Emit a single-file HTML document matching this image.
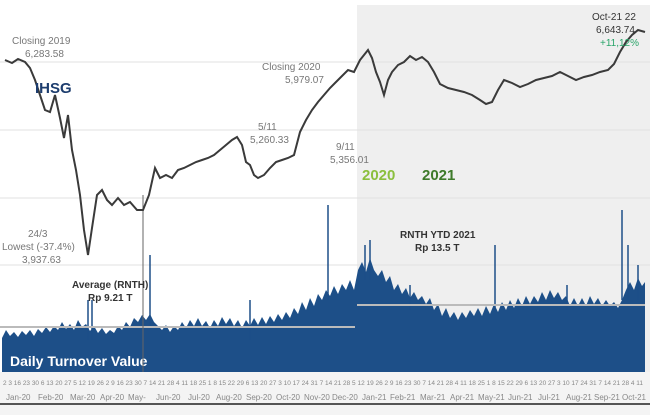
<!DOCTYPE html><html><head><style>body{margin:0;background:#fff;width:650px;height:415px;overflow:hidden;font-family:"Liberation Sans",sans-serif}</style></head><body>
<svg width="650" height="415" xmlns="http://www.w3.org/2000/svg" font-family="Liberation Sans, sans-serif">
<rect x="357" y="5" width="293" height="370" fill="#efefef"/>
<g stroke="#e2e2e2" stroke-width="1"><line x1="0" y1="62" x2="650" y2="62"/><line x1="0" y1="130" x2="650" y2="130"/><line x1="0" y1="198" x2="650" y2="198"/><line x1="0" y1="265" x2="650" y2="265"/></g>
<polygon fill="#1d4f88" points="2,372 2,338 6,330 10,336 14,332 18,337 22,331 26,335 30,330 34,336 38,329 42,333 46,327 50,332 54,326 58,330 62,322 66,329 70,324 74,330 78,320 82,327 86,324 90,331 94,326 98,333 102,328 106,334 110,330 114,333 118,326 122,330 126,322 130,327 134,318 138,322 142,315 146,320 150,314 154,322 158,326 162,330 166,325 170,332 174,326 178,330 182,322 186,328 190,320 194,326 198,318 202,326 206,321 210,328 214,320 218,326 222,317 226,324 230,318 234,326 238,320 242,328 246,320 250,326 254,318 258,325 262,317 266,324 270,316 274,322 278,314 282,320 286,312 290,318 294,308 298,314 302,302 306,310 310,298 314,306 318,294 322,300 326,290 330,296 334,286 338,294 342,284 346,290 350,280 354,290 358,270 362,262 366,272 370,258 374,270 378,276 382,270 386,282 390,276 394,290 398,284 402,294 406,288 410,298 414,292 418,300 422,296 426,304 430,298 434,310 438,304 442,316 446,308 450,318 454,312 458,320 462,312 466,318 470,310 474,316 478,308 482,316 486,306 490,314 494,304 498,312 502,302 506,310 510,300 514,308 518,298 522,306 526,296 530,304 534,296 538,302 542,292 546,300 550,290 554,298 558,292 562,300 566,296 570,306 574,298 578,306 582,298 586,306 590,296 594,304 598,298 602,306 606,300 610,306 614,302 618,308 622,300 626,290 630,282 634,290 638,278 642,286 645,282 645,372"/>
<g stroke="#1d4f88" stroke-width="1.5">
<line x1="88" y1="300" x2="88" y2="340"/><line x1="92" y1="300" x2="92" y2="340"/><line x1="150" y1="255" x2="150" y2="330"/><line x1="250" y1="300" x2="250" y2="340"/><line x1="328" y1="205" x2="328" y2="300"/><line x1="365" y1="245" x2="365" y2="280"/><line x1="370" y1="240" x2="370" y2="280"/><line x1="410" y1="285" x2="410" y2="310"/><line x1="495" y1="245" x2="495" y2="310"/><line x1="567" y1="285" x2="567" y2="310"/><line x1="622" y1="210" x2="622" y2="300"/><line x1="628" y1="245" x2="628" y2="300"/><line x1="638" y1="265" x2="638" y2="300"/>
</g>
<line x1="0" y1="327" x2="355" y2="327" stroke="#bbb" stroke-width="2"/>
<line x1="357" y1="305" x2="645" y2="305" stroke="#bbb" stroke-width="2"/>
<rect x="0" y="372" width="650" height="43" fill="#f4f4f4"/>
<line x1="0" y1="404" x2="650" y2="404" stroke="#555" stroke-width="2"/>
<text x="10" y="366" fill="#fff" font-weight="bold" font-size="14">Daily Turnover Value</text>
<line x1="143" y1="195" x2="143" y2="372" stroke="#666"/>
<polyline fill="none" stroke="#3a3a3a" stroke-width="2" points="5,60 12,63 18,59 25,62 30,68 35,80 40,95 45,110 50,112 55,95 60,118 64,138 68,115 72,150 76,170 80,195 84,230 88,255 92,228 97,195 102,190 107,200 112,205 118,198 124,205 130,202 137,210 143,210 149,195 155,168 160,178 166,175 172,178 178,170 184,168 190,165 196,162 202,160 208,158 214,155 220,150 226,145 232,140 237,137 242,145 246,162 250,165 254,175 258,178 264,175 270,168 276,162 282,160 288,158 294,155 300,132 306,120 312,110 318,102 324,95 330,88 336,82 342,76 348,70 354,72 360,60 364,55 368,50 372,58 376,72 380,82 384,95 388,80 392,72 398,65 404,62 410,56 416,60 422,57 428,62 434,72 440,84 448,88 456,90 464,92 472,95 480,100 486,104 492,102 498,90 504,80 512,83 520,87 528,84 536,80 544,78 552,76 560,72 568,76 576,80 584,77 592,75 600,72 608,70 614,64 620,52 626,42 632,35 638,30 645,32"/>
<g font-size="10" fill="#777">
<text x="12" y="44">Closing 2019</text><text x="25" y="57">6,283.58</text>
<text x="262" y="70">Closing 2020</text><text x="285" y="83">5,979.07</text>
<text x="258" y="130">5/11</text><text x="250" y="143">5,260.33</text>
<text x="336" y="150">9/11</text><text x="330" y="163">5,356.01</text>
<text x="28" y="237">24/3</text><text x="2" y="250">Lowest (-37.4%)</text><text x="22" y="263">3,937.63</text>
</g>
<text x="592" y="20" font-size="10" fill="#333">Oct-21 22</text>
<text x="596" y="33" font-size="10" fill="#333">6,643.74</text>
<text x="600" y="46" font-size="10" fill="#2aa56a">+11,12%</text>
<text x="35" y="93" font-size="15" font-weight="bold" fill="#1d3d6e">IHSG</text>
<text x="362" y="180" font-size="15" font-weight="bold" fill="#8bbf3e">2020</text>
<text x="422" y="180" font-size="15" font-weight="bold" fill="#3e7a2a">2021</text>
<text x="72" y="288" font-size="10" font-weight="bold" fill="#333">Average (RNTH)</text>
<text x="88" y="301" font-size="10" font-weight="bold" fill="#333">Rp 9.21  T</text>
<text x="400" y="238" font-size="10" font-weight="bold" fill="#333">RNTH YTD 2021</text>
<text x="415" y="251" font-size="10" font-weight="bold" fill="#333">Rp 13.5 T</text>
<g font-size="8" fill="#888">
<text x="6" y="400">Jan-20</text><text x="38" y="400">Feb-20</text><text x="70" y="400">Mar-20</text><text x="100" y="400">Apr-20</text><text x="128" y="400">May-</text><text x="156" y="400">Jun-20</text><text x="188" y="400">Jul-20</text><text x="216" y="400">Aug-20</text><text x="246" y="400">Sep-20</text><text x="276" y="400">Oct-20</text><text x="304" y="400">Nov-20</text><text x="332" y="400">Dec-20</text><text x="362" y="400">Jan-21</text><text x="390" y="400">Feb-21</text><text x="420" y="400">Mar-21</text><text x="450" y="400">Apr-21</text><text x="478" y="400">May-21</text><text x="508" y="400">Jun-21</text><text x="538" y="400">Jul-21</text><text x="566" y="400">Aug-21</text><text x="594" y="400">Sep-21</text><text x="622" y="400">Oct-21</text>
<text x="3" y="385" font-size="6" textLength="640" lengthAdjust="spacingAndGlyphs">2 3 16 23 30 6 13 20 27 5 12 19 26 2 9 16 23 30 7 14 21 28 4 11 18 25 1 8 15 22 29 6 13 20 27 3 10 17 24 31 7 14 21 28 5 12 19 26 2 9 16 23 30 7 14 21 28 4 11 18 25 1 8 15 22 29 6 13 20 27 3 10 17 24 31 7 14 21 28 4 11</text>
</g>
</svg></body></html>
